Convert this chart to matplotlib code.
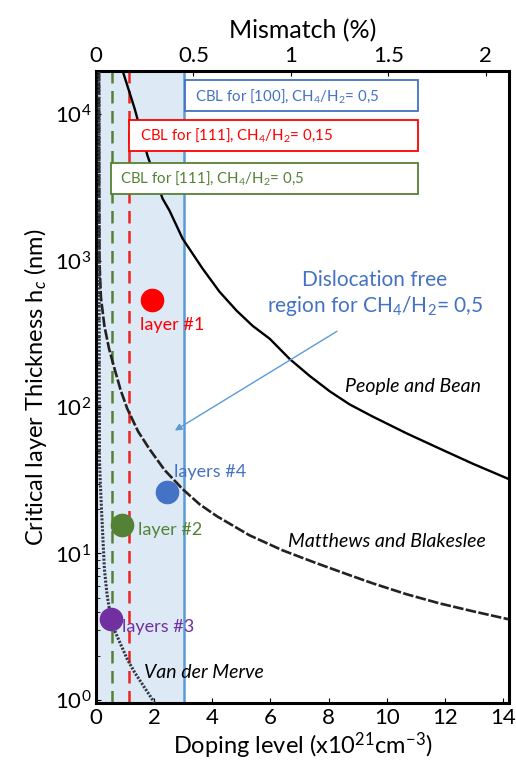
import matplotlib.pyplot as plt
import matplotlib.patches as mpatches
import numpy as np

plt.rcParams['font.family'] = ['Lato', 'DejaVu Sans']
plt.rcParams['mathtext.fontset'] = 'custom'
plt.rcParams['mathtext.rm'] = 'Lato'
plt.rcParams['mathtext.it'] = 'Lato:italic'

# curves (doping x1e21 cm-3, thickness nm)
pb_x = [0.92, 1.33, 1.77, 2.29, 2.53, 2.98, 3.67, 4.25, 4.84, 5.39, 5.98, 6.66, 7.35,
        8.04, 8.73, 9.52, 10.69, 11.82, 12.96, 14.2]
pb_y = [19670, 10900, 5210, 2650, 2190, 1410, 879, 612, 454, 358, 292, 213, 163,
        128, 104, 86, 66, 52, 41, 32.2]

mb_x = [0.105, 0.11, 0.12, 0.17, 0.29, 0.45, 0.64, 0.85, 1.08, 1.45, 1.84, 2.36, 2.98,
        3.56, 4.15, 5.28, 6.42, 7.59, 8.73, 9.52, 10.69, 11.82, 12.96, 14.2]
mb_y = [19670, 3000, 980, 560, 357, 250, 182, 130, 97, 68, 51.6, 37.1, 27.5,
        21.7, 18.0, 13.3, 10.5, 8.57, 7.10, 6.25, 5.26, 4.56, 4.03, 3.55]

vm_x = [0.10, 0.105, 0.11, 0.12, 0.15, 0.19, 0.24, 0.29, 0.38, 0.50, 0.67, 0.88,
        1.08, 1.33, 1.64, 1.95, 2.05]
vm_y = [19670, 3000, 548, 44, 29.8, 20, 12.5, 7.8, 5.26, 3.72, 2.89, 2.32,
        1.89, 1.54, 1.24, 1.0, 0.93]

# CBL limits
cbl_green = 0.54
cbl_red = 1.13
cbl_blue = 3.02

# layers
layer_names = ['layer #1', 'layer #2', 'layers #3', 'layers #4']
layer_x = [1.91, 0.91, 0.50, 2.43]
layer_y = [536, 15.7, 3.57, 26.2]
layer_col = ['#ff0000', '#548235', '#7030a0', '#4472c4']

fig = plt.figure(figsize=(5.16, 7.64), dpi=100)
ax = fig.add_axes([0.186, 0.080, 0.800, 0.827])
ax.set_yscale('log')
ax.set_xlim(0, 14.2)
ax.set_ylim(0.954, 19670)

ax.axvspan(0, cbl_blue, color='#dee9f6', zorder=0)
ax.axvline(cbl_blue, color='#5b9bd5', lw=1.8, zorder=2)
ax.axvline(cbl_green, color='#548235', lw=1.8, ls=(0, (5, 3)), zorder=2)
ax.axvline(cbl_red, color='#ee2222', lw=1.8, ls=(0, (5, 3)), zorder=2)

ax.plot(pb_x, pb_y, color='black', lw=1.7, zorder=3)
ax.plot(mb_x, mb_y, color='#222222', lw=1.9, ls=(0, (4, 0.9)), zorder=3)
ax.plot(vm_x, vm_y, color='#333a45', lw=2.2, ls=(0, (0.7, 0.5)), zorder=3)

for nm, x, y, c in zip(layer_names, layer_x, layer_y, layer_col):
    ax.plot(x, y, 'o', ms=16, color=c, zorder=5)

tk = dict(fontsize=13, va='center', ha='left', zorder=6)
ax.text(1.53, 363, 'layer #1', color=layer_col[0], **tk)
ax.text(1.43, 14.5, 'layer #2', color=layer_col[1], **tk)
ax.text(0.91, 3.15, 'layers #3', color=layer_col[2], **tk)
ax.text(2.67, 36, 'layers #4', color=layer_col[3], **tk)

it = dict(fontsize=14, style='italic', va='center', ha='left', zorder=6)
ax.text(1.64, 1.53, 'Van der Merve', **it)
ax.text(6.59, 12.0, 'Matthews and Blakeslee', **it)
ax.text(8.55, 137, 'People and Bean', **it)

# CBL boxes
boxes = [(3.05, 10480, 17060, '#4472c4', 3.39, 'CBL for [100], CH$_4$/H$_2$= 0,5'),
         (1.12, 5590, 9100, '#ff0000', 1.50, 'CBL for [111], CH$_4$/H$_2$= 0,15'),
         (0.53, 2844, 4630, '#548235', 0.84, 'CBL for [111], CH$_4$/H$_2$= 0,5')]
for x0, y0, y1, c, tx, s in boxes:
    ax.add_patch(mpatches.Rectangle((x0, y0), 11.07 - x0, y1 - y0, facecolor='white',
                                    edgecolor=c, lw=1.3, zorder=6))
    ax.text(tx, np.sqrt(y0 * y1), s, color=c, fontsize=10.8, va='center', ha='left', zorder=7)

ax.text(9.6, 590, 'Dislocation free\nregion for CH$_4$/H$_2$= 0,5', color='#4472c4',
        fontsize=15, ha='center', va='center', linespacing=1.2, zorder=6)
ax.annotate('', xy=(2.63, 67.5), xytext=(8.37, 336),
            arrowprops=dict(arrowstyle='-|>', color='#5b9bd5', lw=1.0, mutation_scale=10), zorder=6)

ax.set_xticks([0, 2, 4, 6, 8, 10, 12, 14])
ax.tick_params(axis='both', which='both', direction='in', labelsize=16)
ax.tick_params(axis='y', which='minor', length=3)
ax.set_xlabel('Doping level (x10$^{21}$cm$^{-3}$)', fontsize=17, labelpad=2)
ax.set_ylabel('Critical layer Thickness h$_c$ (nm)', fontsize=17)
for sp in ax.spines.values():
    sp.set_linewidth(2.2)

ax2 = ax.twiny()
ax2.set_xlim(0, 2.118)
ax2.set_xticks([0, 0.5, 1, 1.5, 2])
ax2.set_xticklabels(['0', '0.5', '1', '1.5', '2'])
ax2.tick_params(axis='x', direction='in', labelsize=16, colors='black')
ax2.set_xlabel('Mismatch (%)', fontsize=18, labelpad=6)

fig.savefig('out.png', dpi=100)
